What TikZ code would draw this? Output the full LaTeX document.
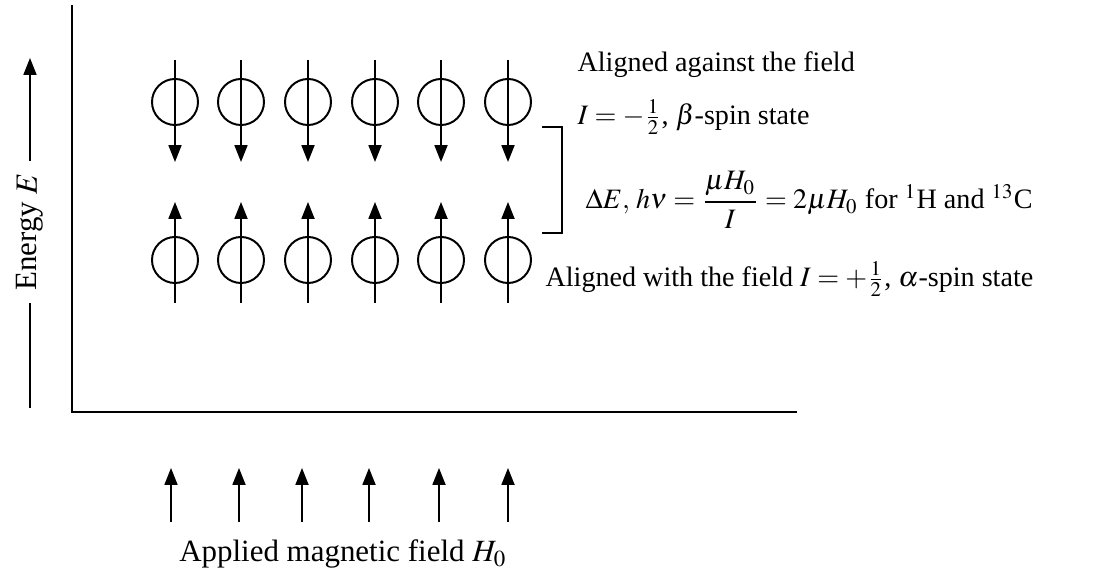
\documentclass[tikz,border=0pt]{standalone}
\usepackage{amsmath}
\usepackage{mathptmx}
\usepackage{fontspec}
\setmainfont{Liberation Serif}
\usepackage{tikz}
\usetikzlibrary{arrows.meta, positioning}

\begin{document}
\begin{tikzpicture}[x=0.0125cm, y=-0.0125cm,
	spin/.style={circle, draw, line width=0.7pt, inner sep=0pt, minimum size=0.575cm},
	tip/.style={-{Triangle[length=6pt,width=4.6pt]}, line width=0.7pt},
	lbl/.style={anchor=west, inner sep=0pt, font=\fontsize{10}{12}\selectfont},
	axlbl/.style={inner sep=0pt, font=\fontsize{11}{13}\selectfont}]
	\useasboundingbox (0,0) rectangle (1113,568);
	% axes
	\coordinate (ytop) at (72,5);
	\coordinate (xend) at (797,412);
	\path[draw,line width=0.7pt] (ytop) |- (xend);
	% energy axis label
	\node[axlbl, rotate=90] (energy) at (30,232) {Energy $E$};
	\coordinate (etop) at (30,58);
	\coordinate (ebot) at (30,408);
	\path[draw,tip] (energy.east) ++(0,-12) -- (etop);
	\path[draw,line width=0.7pt] (energy.west) ++(0,12) -- (ebot);
	% beta spins (against the field) and alpha spins (with the field)
	\foreach \x [count=\i] in {175,241,308,375,441,508} {
		\node[spin] (beta\i) at (\x,102) {};
		\coordinate (bt\i) at (\x,60);
		\coordinate (bb\i) at (\x,162);
		\path[draw,tip] (bt\i) -- (bb\i);
		\node[spin] (alpha\i) at (\x,260) {};
		\coordinate (at\i) at (\x,202);
		\coordinate (ab\i) at (\x,303);
		\path[draw,tip] (ab\i) -- (at\i);
	}
	% applied field
	\foreach \x [count=\i] in {171,239,302,369,439,508} {
		\coordinate (ft\i) at (\x,468);
		\coordinate (fb\i) at (\x,522);
		\path[draw,tip] (fb\i) -- (ft\i);
	}
	\node[axlbl] (field) at (343,554) {Applied magnetic field $H_0$};
	% bracket and texts
	\coordinate (brtop) at (542,127);
	\coordinate (brbot) at (542,233);
	\path[draw,line width=0.7pt] (brtop) -- ++(20,0) |- (brbot);
	\node[lbl] (against) at (577,65) {Aligned against the field};
	\node[lbl] (betastate) at (577,117) {$I=-\frac{1}{2}$, $\beta$-spin state};
	\node[lbl] (gap) at (585,200) {$\Delta E,\, h\nu = \dfrac{\mu H_0}{I} = 2\mu H_0$ for ${}^{1}$H and ${}^{13}$C};
	\node[lbl] (with) at (545,279) {Aligned with the field $I=+\frac{1}{2}$, $\alpha$-spin state};
\end{tikzpicture}
\end{document}
